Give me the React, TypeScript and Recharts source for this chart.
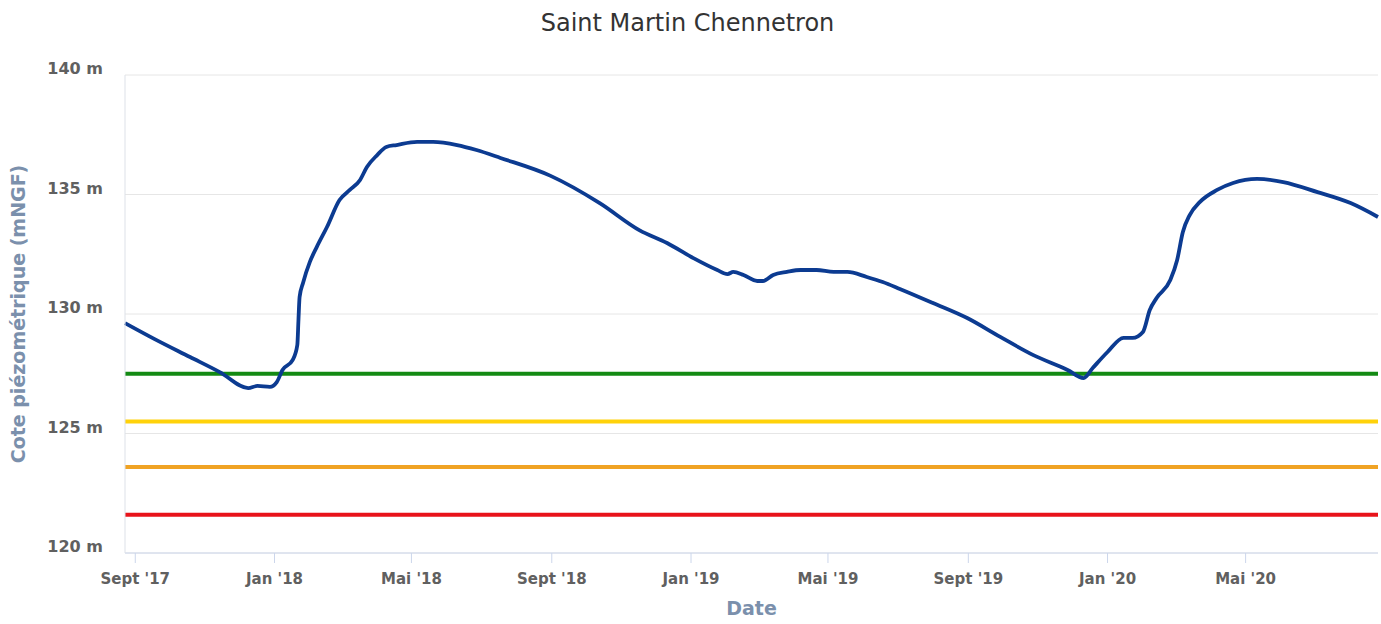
import React from "react";
import {
  LineChart,
  Line,
  XAxis,
  YAxis,
  CartesianGrid,
  ReferenceLine,
} from "recharts";

// relevés piézométriques (date, cote en m NGF)
const dates = [
  "2017-08-23", "2017-09-18", "2017-10-19", "2017-11-14", "2017-12-09",
  "2017-12-17", "2017-12-28", "2018-01-03", "2018-01-08", "2018-01-17",
  "2018-01-21", "2018-01-22", "2018-01-23", "2018-01-26", "2018-02-01",
  "2018-02-07", "2018-02-16", "2018-02-27", "2018-03-08", "2018-03-17",
  "2018-03-23", "2018-04-01", "2018-04-09", "2018-04-18", "2018-05-06",
  "2018-05-20", "2018-06-10", "2018-06-27", "2018-07-18", "2018-08-31",
  "2018-10-13", "2018-11-17", "2018-12-11", "2019-01-03", "2019-01-24",
  "2019-02-02", "2019-02-07", "2019-02-16", "2019-02-28", "2019-03-05",
  "2019-03-14", "2019-03-26", "2019-04-07", "2019-04-21", "2019-05-06",
  "2019-05-18", "2019-06-04", "2019-06-18", "2019-07-03", "2019-08-01",
  "2019-08-31", "2019-09-29", "2019-10-28", "2019-11-27", "2019-12-11",
  "2019-12-19", "2020-01-01", "2020-01-15", "2020-01-23", "2020-02-01",
  "2020-02-07", "2020-02-13", "2020-02-25", "2020-03-02", "2020-03-07",
  "2020-03-13", "2020-03-22", "2020-04-06", "2020-04-20", "2020-05-11",
  "2020-06-03", "2020-07-03", "2020-08-01", "2020-08-25",
];

const cotes = [
  129.62, 128.95, 128.2, 127.57, 126.9,
  126.99, 126.95, 127.15, 127.66, 128.08,
  128.7, 129.75, 130.71, 131.3, 132.18,
  132.8, 133.64, 134.77, 135.19, 135.61,
  136.15, 136.65, 136.99, 137.07, 137.2,
  137.2, 137.07, 136.86, 136.53, 135.78,
  134.64, 133.5, 132.97, 132.34, 131.84,
  131.67, 131.76, 131.63, 131.38, 131.38,
  131.63, 131.76, 131.84, 131.84, 131.76,
  131.76, 131.55, 131.34, 131.05, 130.46,
  129.83, 129.04, 128.28, 127.66, 127.32,
  127.74, 128.41, 129.0, 129.0, 129.25,
  130.17, 130.67, 131.42, 132.26, 133.43,
  134.14, 134.69, 135.19, 135.48, 135.65,
  135.52, 135.1, 134.64, 134.06,
];

const tickDates = [
  "2017-09-01", "2018-01-01", "2018-05-01", "2018-09-01", "2019-01-01",
  "2019-05-01", "2019-09-01", "2020-01-01", "2020-05-01",
];
const tickLabels = [
  "Sept '17", "Jan '18", "Mai '18", "Sept '18", "Jan '19",
  "Mai '19", "Sept '19", "Jan '20", "Mai '20",
];

const yTicks = [120, 125, 130, 135, 140];

// seuils
const seuils = [
  { value: 127.5, color: "#138a13" },
  { value: 125.5, color: "#ffd20a" },
  { value: 123.6, color: "#f0a324" },
  { value: 121.6, color: "#e8131a" },
];

const data = dates.map((d, i) => ({ t: Date.parse(d), cote: cotes[i] }));
const xTicks = tickDates.map((d) => Date.parse(d));

const labelFont = "'DejaVu Sans', sans-serif";

const XTick = (props: any) => {
  const { x, y, payload } = props;
  const idx = xTicks.indexOf(payload.value);
  return (
    <text
      x={x}
      y={y + 21}
      textAnchor='middle'
      fill='#606060'
      fontFamily={labelFont}
      fontWeight='bold'
      fontSize={15}>
      {tickLabels[idx]}
    </text>
  );
};

const YTick = (props: any) => {
  const { x, y, payload } = props;
  return (
    <text
      x={x}
      y={y - 1}
      textAnchor='end'
      fill='#606060'
      fontFamily={labelFont}
      fontWeight='bold'
      fontSize={16}>
      {payload.value} m
    </text>
  );
};

export default function App() {
  return (
    <div
      style={{
        position: "absolute",
        left: 0,
        top: 0,
        width: 1381,
        height: 624,
        background: "#fff",
      }}>
      <div
        style={{
          position: "absolute",
          top: 8,
          left: 0,
          width: 1375,
          textAlign: "center",
          fontFamily: labelFont,
          fontSize: 24,
          lineHeight: "30px",
          color: "#333333",
        }}>
        Saint Martin Chennetron
      </div>
      <LineChart
        width={1381}
        height={624}
        data={data}
        margin={{ top: 75, right: 3, bottom: 0, left: 0 }}>
        <CartesianGrid vertical={false} stroke='#e6e6e6' />
        <XAxis
          dataKey='t'
          type='number'
          domain={[data[0].t, data[data.length - 1].t]}
          ticks={xTicks}
          height={71}
          tickSize={10}
          tickMargin={0}
          tick={<XTick />}
          axisLine={{ stroke: "#ccd6eb" }}
          tickLine={{ stroke: "#ccd6eb" }}
          label={{
            content: (p: any) => {
              const vb = p.viewBox;
              return (
                <text
                  x={vb.x + vb.width / 2}
                  y={vb.y + 62}
                  textAnchor='middle'
                  fill='#7b90ac'
                  fontFamily={labelFont}
                  fontWeight='bold'
                  fontSize={19}>
                  Date
                </text>
              );
            },
          }}
        />
        <YAxis
          domain={[120, 140]}
          ticks={yTicks}
          width={125}
          tickSize={0}
          tickMargin={22}
          tick={<YTick />}
          axisLine={{ stroke: "#dde1e8" }}
          tickLine={false}
          label={{
            content: (p: any) => {
              const vb = p.viewBox;
              const cx = vb.x + 25;
              const cy = vb.y + vb.height / 2;
              return (
                <text
                  x={cx}
                  y={cy}
                  transform={`rotate(-90, ${cx}, ${cy})`}
                  textAnchor='middle'
                  fill='#7b90ac'
                  fontFamily={labelFont}
                  fontWeight='bold'
                  fontSize={19}>
                  Cote piézométrique (mNGF)
                </text>
              );
            },
          }}
        />
        {seuils.map((s) => (
          <ReferenceLine
            key={s.value}
            y={s.value}
            stroke={s.color}
            strokeWidth={4}
          />
        ))}
        <Line
          type='monotone'
          dataKey='cote'
          stroke='#0c3b91'
          strokeWidth={3.8}
          dot={false}
          isAnimationActive={false}
        />
      </LineChart>
    </div>
  );
}
